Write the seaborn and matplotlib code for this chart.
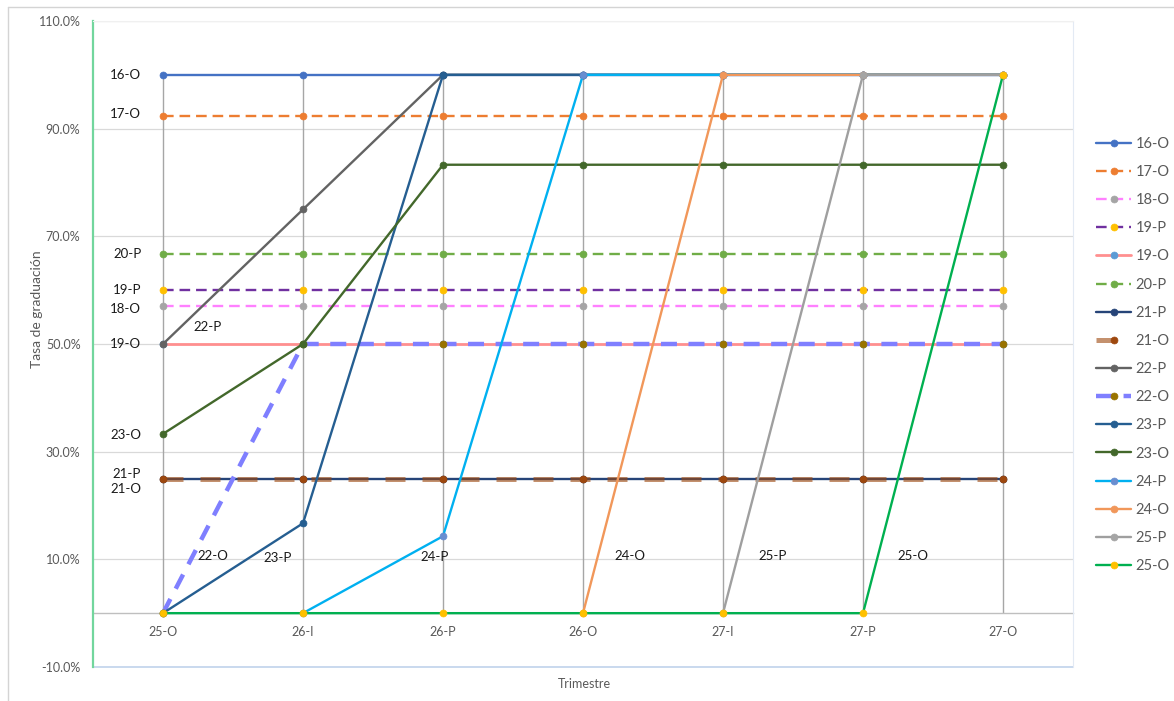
import numpy as np
import pandas as pd
import matplotlib
matplotlib.use("Agg")
import matplotlib.pyplot as plt
import seaborn as sns
from matplotlib.lines import Line2D

# ---------------- data ----------------
quarters = ["25-O", "26-I", "26-P", "26-O", "27-I", "27-P", "27-O"]
nan = np.nan
s_16O = [100, 100, 100, 100, 100, 100, 100]
s_17O = [92.3, 92.3, 92.3, 92.3, 92.3, 92.3, 92.3]
s_18O = [57.1, 57.1, 57.1, 57.1, 57.1, 57.1, 57.1]
s_19P = [60, 60, 60, 60, 60, 60, 60]
s_19O = [50, 50, 50, 50, 50, 50, 50]
s_20P = [66.7, 66.7, 66.7, 66.7, 66.7, 66.7, 66.7]
s_21P = [25, 25, 25, 25, 25, 25, 25]
s_21O = [25, 25, 25, 25, 25, 25, 25]
s_22P = [50, 75, 100, 100, 100, 100, 100]
s_22O = [0, 50, 50, 50, 50, 50, 50]
s_23P = [0, 16.7, 100, 100, 100, 100, 100]
s_23O = [33.3, 50, 83.3, 83.3, 83.3, 83.3, 83.3]
s_24P = [nan, 0, 14.3, 100, 100, 100, 100]
s_24O = [nan, nan, nan, 0, 100, 100, 100]
s_25P = [nan, nan, nan, nan, 0, 100, 100]
s_25O = [0, 0, 0, 0, 0, 0, 100]

series_names = ["16-O", "17-O", "18-O", "19-P", "19-O", "20-P", "21-P", "21-O",
                "22-P", "22-O", "23-P", "23-O", "24-P", "24-O", "25-P", "25-O"]
series_values = [s_16O, s_17O, s_18O, s_19P, s_19O, s_20P, s_21P, s_21O,
                 s_22P, s_22O, s_23P, s_23O, s_24P, s_24O, s_25P, s_25O]

# ---------------- styles ----------------
DASH = (0, (4.5, 2.5))
styles = {
    "16-O": dict(color="#4472C4", mc="#4472C4", ls="-", lw=1.7),
    "17-O": dict(color="#ED7D31", mc="#ED7D31", ls=DASH, lw=1.7),
    "18-O": dict(color="#FF80FF", mc="#A5A5A5", ls=DASH, lw=1.7),
    "19-P": dict(color="#7030A0", mc="#FFC000", ls=DASH, lw=1.7),
    "19-O": dict(color="#FF8F8F", mc="#5B9BD5", ls="-", lw=2.0),
    "20-P": dict(color="#70AD47", mc="#70AD47", ls=DASH, lw=1.7),
    "21-P": dict(color="#264478", mc="#264478", ls="-", lw=1.7),
    "21-O": dict(color=(158/255, 72/255, 14/255, 0.6), mc="#9E480E", ls=(0, (4.0, 3.4)), lw=3.6),
    "22-P": dict(color="#636363", mc="#636363", ls="-", lw=1.7),
    "22-O": dict(color="#7F7FFF", mc="#997300", ls=(0, (3.6, 2.6)), lw=3.2),
    "23-P": dict(color="#255E91", mc="#255E91", ls="-", lw=1.7),
    "23-O": dict(color="#43682B", mc="#43682B", ls="-", lw=1.7),
    "24-P": dict(color="#00B0F0", mc="#698ED0", ls="-", lw=1.7),
    "24-O": dict(color="#F1975A", mc="#F1975A", ls="-", lw=1.7),
    "25-P": dict(color="#9F9F9F", mc="#A5A5A5", ls="-", lw=1.7),
    "25-O": dict(color="#00B050", mc="#FFC000", ls="-", lw=1.7),
}

# ---------------- figure ----------------
sns.set_theme(style="white")
plt.rcParams["font.family"] = ["Lato", "DejaVu Sans"]

W, H = 1174, 701
fig = plt.figure(figsize=(W / 100, H / 100), dpi=100)
fig.patch.set_facecolor("white")
ax = fig.add_axes([93 / W, (H - 667) / H, (1073 - 93) / W, (667 - 21) / H])

x = np.arange(len(quarters))

# drop lines from the highest value down to the category axis
colmax = np.nanmax(np.array(series_values, dtype=float), axis=0)
ax.vlines(x, 0, colmax, color="#A6A6A6", lw=1.0, zorder=1)

for z, (name, vals) in enumerate(zip(series_names, series_values)):
    st = styles[name]
    df = pd.DataFrame({"q": x, "v": vals}).dropna()
    sns.lineplot(data=df, x="q", y="v", ax=ax, color=st["color"], linestyle=st["ls"],
                 linewidth=st["lw"], marker="o", markersize=5,
                 markerfacecolor=st["mc"], markeredgecolor=st["mc"],
                 markeredgewidth=0.5, label=name, zorder=3 + z, sort=False,
                 estimator=None)

# ---------------- axes ----------------
ax.set_xlim(-0.5, len(quarters) - 0.5)
ax.set_ylim(-10, 110)
ax.set_xticks(x)
ax.set_xticklabels(quarters)
ax.set_yticks(np.arange(-10, 111, 20))
ax.set_yticks(np.arange(-10, 111, 5), minor=True)
ax.set_yticklabels([f"{v:.1f}%" for v in np.arange(-10, 111, 20)])

green = "#72D69D"
ax.spines["left"].set_color(green)
ax.spines["left"].set_linewidth(1.6)
ax.spines["bottom"].set_position(("data", 0))
ax.spines["bottom"].set_color("#BFBFBF")
ax.spines["bottom"].set_linewidth(1.0)
ax.spines["bottom"].set_zorder(2)
ax.spines["top"].set_color("#F0F0F0")
ax.spines["top"].set_linewidth(0.8)
ax.spines["right"].set_color("#E3EAF4")
ax.spines["right"].set_linewidth(0.8)

ax.tick_params(axis="y", which="both", direction="out", length=3, width=1,
               color=green, labelcolor="#595959", labelsize=9, pad=6)
ax.tick_params(axis="x", length=0, labelcolor="#595959", labelsize=9, pad=9)

ax.yaxis.grid(True, which="major", color="#D9D9D9", lw=0.9, zorder=0)
ax.xaxis.grid(False)
ax.set_axisbelow(True)
ax.axhline(-10, color="#C9D9EE", lw=1.4, zorder=1, clip_on=False)

ax.set_ylabel("Tasa de graduación", color="#595959", fontsize=10)
ax.yaxis.set_label_coords(-0.051, 0.554)
ax.set_xlabel("Trimestre", color="#595959", fontsize=9)
ax.xaxis.set_label_coords(0.501, -0.017)

# ---------------- data labels ----------------
left_labels = [("16-O", 100), ("17-O", 92.7), ("20-P", 66.7), ("19-P", 60),
               ("18-O", 56.5), ("19-O", 50), ("23-O", 33.1), ("21-P", 25.9),
               ("21-O", 23.1)]
for name, yv in left_labels:
    ax.text(-0.155, yv, name, ha="right", va="center", fontsize=9.5, color="#1A1A1A")

inner_labels = [("22-P", 0.32, 53.2), ("22-O", 0.357, 10.6), ("23-P", 0.82, 10.2),
                ("24-P", 1.94, 10.4), ("24-O", 3.336, 10.6), ("25-P", 4.357, 10.6),
                ("25-O", 5.357, 10.6)]
for name, xv, yv in inner_labels:
    ax.text(xv, yv, name, ha="center", va="center", fontsize=9.5, color="#1A1A1A")

# ---------------- legend ----------------
handles, labels = ax.get_legend_handles_labels()
leg = ax.legend(handles, labels, loc="center left",
                bbox_to_anchor=(1096 / W, 1 - 355 / H), bbox_transform=fig.transFigure,
                frameon=False, fontsize=10.5, labelcolor="#595959",
                handlelength=2.4, handletextpad=0.3, labelspacing=0.97,
                borderpad=0, borderaxespad=0)

# ---------------- outer chart frame ----------------
fig.add_artist(Line2D([8 / W, 1], [1 - 7 / H, 1 - 7 / H], transform=fig.transFigure,
                      color="#D4D4D4", lw=1.0))
fig.add_artist(Line2D([8 / W, 8 / W], [0, 1 - 7 / H], transform=fig.transFigure,
                      color="#D4D4D4", lw=1.0))

fig.savefig("out.png", dpi=100, facecolor="white")
